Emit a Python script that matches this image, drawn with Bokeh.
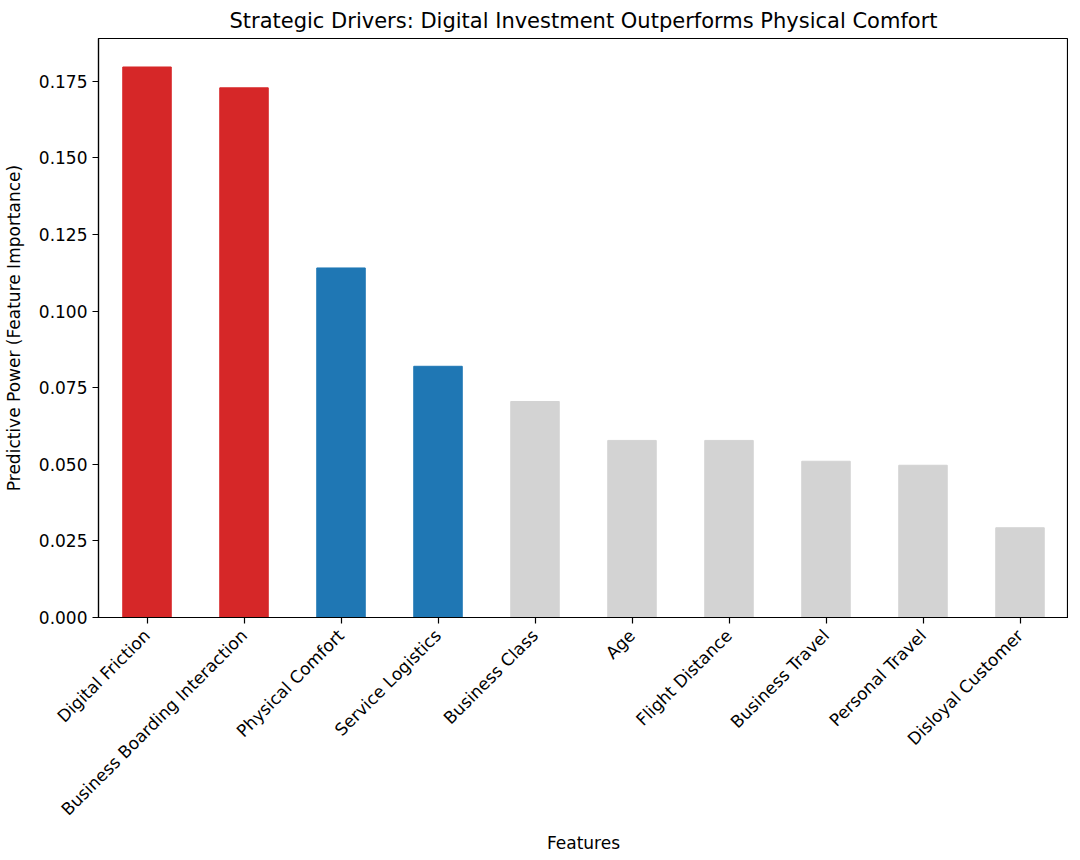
import math
from bokeh.plotting import figure
from bokeh.models import ColumnDataSource, FixedTicker, PrintfTickFormatter, Range1d, FactorRange
from bokeh.embed import file_html
from bokeh.resources import INLINE

features = ["Digital Friction", "Business Boarding Interaction", "Physical Comfort",
            "Service Logistics", "Business Class", "Age", "Flight Distance",
            "Business Travel", "Personal Travel", "Disloyal Customer"]
importance = [0.1797, 0.1729, 0.1141, 0.0820, 0.0705, 0.0578, 0.0578, 0.0510, 0.0497, 0.0293]
colors = ["#d62728", "#d62728", "#1f77b4", "#1f77b4", "#d3d3d3", "#d3d3d3",
          "#d3d3d3", "#d3d3d3", "#d3d3d3", "#d3d3d3"]
y_ticks = [0.0, 0.025, 0.05, 0.075, 0.1, 0.125, 0.15, 0.175]

FONT = "DejaVu Sans"
src = ColumnDataSource(dict(f=features, v=importance, c=colors))

p = figure(width=1068, height=856, output_backend="svg", toolbar_location=None,
           x_range=FactorRange(*features, range_padding=0),
           y_range=Range1d(0, 0.189),
           min_border_left=89, min_border_right=0, min_border_top=30, min_border_bottom=228)

p.vbar(x="f", top="v", width=0.5, color="c", source=src)

p.title.text = "Strategic Drivers: Digital Investment Outperforms Physical Comfort"
p.title.align = "center"
p.title.text_font = FONT
p.title.text_font_size = "21px"
p.title.text_font_style = "normal"
p.title.text_color = "black"
p.title.standoff = 12

p.xgrid.visible = False
p.ygrid.visible = False
p.outline_line_color = "black"
p.outline_line_width = 1.2

for ax in (p.xaxis[0], p.yaxis[0]):
    ax.axis_line_color = "black"
    ax.axis_line_width = 1.2
    ax.major_tick_line_color = "black"
    ax.major_tick_line_width = 1.2
    ax.major_tick_out = 6
    ax.major_tick_in = 0
    ax.minor_tick_line_color = None
    ax.major_label_text_font = FONT
    ax.major_label_text_font_size = "17px"
    ax.major_label_text_color = "black"
    ax.axis_label_text_font = FONT
    ax.axis_label_text_font_size = "17px"
    ax.axis_label_text_font_style = "normal"
    ax.axis_label_text_color = "black"

p.yaxis.ticker = FixedTicker(ticks=y_ticks)
p.yaxis.formatter = PrintfTickFormatter(format="%.3f")
p.yaxis.axis_label = "Predictive Power (Feature Importance)"
p.yaxis.axis_label_standoff = 12
p.yaxis.major_label_standoff = 5

p.xaxis.axis_label = "Features"
p.xaxis.major_label_orientation = math.pi / 4
p.xaxis.major_label_standoff = 9
p.xaxis.axis_label_standoff = 4

open("out.html", "w").write(file_html(p, INLINE))
